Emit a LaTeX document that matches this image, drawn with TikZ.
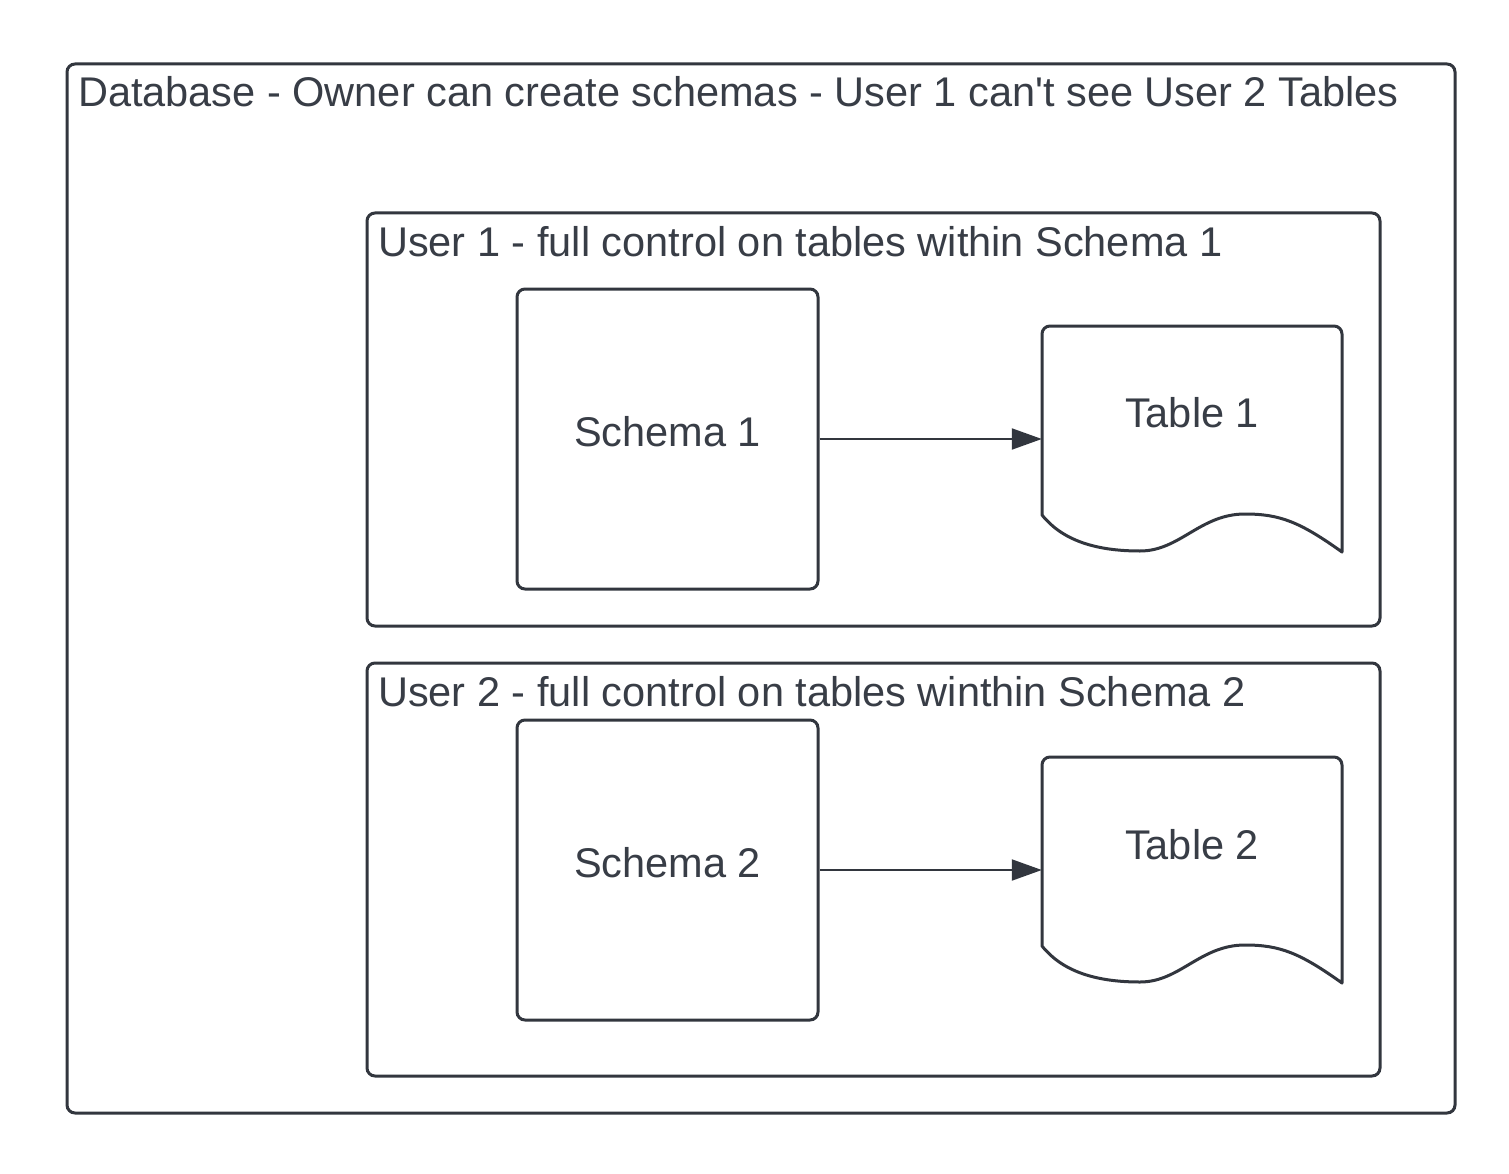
\documentclass[tikz,border=0pt]{standalone}
\usepackage{fontspec}
\setmainfont{Liberation Sans}
\usetikzlibrary{arrows.meta}
\definecolor{ink}{RGB}{50,54,62}
\definecolor{txt}{RGB}{56,61,70}
\tikzset{
  frame/.style={draw=ink, line width=3pt, rounded corners=8pt},
  box/.style={draw=ink, line width=3pt, rounded corners=8pt, minimum width=301pt, minimum height=300pt, inner sep=0pt},
  ghost/.style={draw=none, minimum width=300pt, minimum height=226pt, inner sep=0pt},
  lbl/.style={text=txt, font=\fontsize{41.5}{50}\selectfont, inner sep=0pt},
  doc/.style={draw=ink, line width=3pt, line join=round},
  conn/.style={draw=ink, line width=2pt, -{Triangle[length=30pt,width=21pt]}},
}
\begin{document}
\begin{tikzpicture}[x=1pt,y=-1pt]
\useasboundingbox[fill=white] (0,0) rectangle (1509,1174);
% outer frame
\draw[frame] (67,64) rectangle (1455,1113);
\node[lbl, anchor=base west] (dbt) at (78,107) {Database - Owner can create schemas - User 1 can\textquotesingle t see User 2 Tables};
% user 1 frame
\draw[frame] (367,213) rectangle (1380,626);
\node[lbl, anchor=base west] (u1t) at (378,257) {User 1 - full control on tables within Schema 1};
% user 2 frame
\draw[frame] (367,663) rectangle (1380,1076);
\node[lbl, anchor=base west] (u2t) at (378,706) {User 2 - full control on tables winthin Schema 2};
% schemas
\node[box] (s1) at (667.5,439) {};
\node[box] (s2) at (667.5,870) {};
\node[lbl] (s1l) at (667.5,432) {Schema 1};
\node[lbl] (s2l) at (667.5,863) {Schema 2};
% tables
\node[ghost] (t1) at (1192,439) {};
\node[ghost] (t2) at (1192,870) {};
\foreach \dy in {0,431}{
  \draw[doc] (1042,515+\dy) [rounded corners=8pt] -- (1042,326+\dy) -- (1342,326+\dy) -- (1342,420+\dy) [sharp corners] -- (1342,552+\dy)
    .. controls (1300,522+\dy) and (1280,514+\dy) .. (1245,514+\dy)
    .. controls (1200,514+\dy) and (1180,551+\dy) .. (1140,551+\dy)
    .. controls (1095,551+\dy) and (1062,540+\dy) .. (1042,515+\dy) -- cycle;
}
\node[lbl] (t1l) at (1192,413) {Table 1};
\node[lbl] (t2l) at (1192,845) {Table 2};
% connectors
\draw[conn] (s1.east) -- (t1.west);
\draw[conn] (s2.east) -- (t2.west);
\end{tikzpicture}
\end{document}
